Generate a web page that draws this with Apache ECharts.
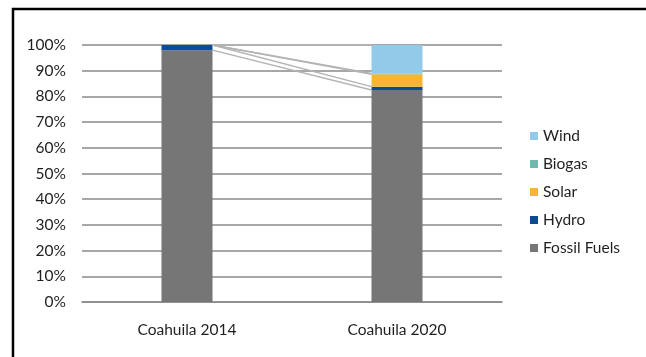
<!DOCTYPE html>
<html>
<head>
<meta charset="utf-8">
<script src="https://cdn.jsdelivr.net/npm/echarts@6/dist/echarts.min.js"></script>
<style>
  html, body { margin: 0; padding: 0; background: #fff; }
  #chart { width: 646px; height: 357px; }
</style>
</head>
<body>
<div id="chart"></div>
<script>
// Generation mix, share of total (%)
const categories = ['Coahuila 2014', 'Coahuila 2020'];
const fossilFuels = [98, 82.5];
const hydro = [2, 1.3];
const solar = [0, 4.8];
const biogas = [0, 0.3];
const wind = [0, 11.1];
const yTicks = [0, 10, 20, 30, 40, 50, 60, 70, 80, 90, 100];

const FONT = 'Lato';
const FS = 15.5;
const TEXT = '#1f1f1f';
const BAR_W = 51;

// Stack order bottom to top
const stackSeries = [
  { name: 'Fossil Fuels', data: fossilFuels, color: '#767676' },
  { name: 'Hydro', data: hydro, color: '#0d4a98' },
  { name: 'Solar', data: solar, color: '#f8b532' },
  { name: 'Biogas', data: biogas, color: '#6cbcae' },
  { name: 'Wind', data: wind, color: '#93c9e9' }
];

// Cumulative top of each stacked segment, for the connector lines
const connectorData = [];
let acc = [0, 0];
stackSeries.forEach(s => {
  acc = [acc[0] + s.data[0], acc[1] + s.data[1]];
  connectorData.push([acc[0], acc[1]]);
});

const chart = echarts.init(document.getElementById('chart'));

const series = stackSeries.map(s => ({
  name: s.name,
  type: 'bar',
  stack: 'total',
  barWidth: BAR_W,
  data: s.data,
  itemStyle: { color: s.color },
  emphasis: { disabled: true },
  z: 3
}));

series.push({
  name: 'connectors',
  type: 'custom',
  silent: true,
  z: 4,
  data: connectorData,
  encode: { x: -1, y: [0, 1] },
  renderItem: function (params, api) {
    const p0 = api.coord([0, api.value(0)]);
    const p1 = api.coord([1, api.value(1)]);
    return {
      type: 'line',
      shape: { x1: p0[0] + BAR_W / 2, y1: p0[1], x2: p1[0] - BAR_W / 2, y2: p1[1] },
      style: { stroke: '#b4b4b4', lineWidth: 1.5 }
    };
  }
});

chart.setOption({
  animation: false,
  backgroundColor: '#fff',
  textStyle: { fontFamily: FONT },
  grid: { left: 82, right: 144, top: 45, bottom: 55 },
  legend: {
    orient: 'vertical',
    left: 525,
    top: 123,
    itemWidth: 8,
    itemHeight: 8,
    itemGap: 12,
    icon: 'rect',
    data: ['Wind', 'Biogas', 'Solar', 'Hydro', 'Fossil Fuels'],
    textStyle: { fontFamily: FONT, fontSize: FS, color: TEXT }
  },
  xAxis: {
    type: 'category',
    data: categories,
    axisTick: { show: false },
    axisLine: { lineStyle: { color: '#8a8a8a', width: 1.5 } },
    axisLabel: { fontFamily: FONT, fontSize: FS, color: TEXT, margin: 20 }
  },
  yAxis: {
    type: 'value',
    min: yTicks[0],
    max: yTicks[yTicks.length - 1],
    interval: 10,
    axisLine: { show: false },
    axisTick: { show: false },
    splitLine: { lineStyle: { color: '#8a8a8a', width: 1.5 } },
    axisLabel: { fontFamily: FONT, fontSize: FS, color: TEXT, margin: 16, formatter: '{value}%' }
  },
  graphic: [{
    type: 'rect',
    shape: { x: 13, y: 9, width: 700, height: 400 },
    style: { fill: 'none', stroke: '#000', lineWidth: 2.5 },
    silent: true
  }],
  series: series
});
</script>
</body>
</html>
